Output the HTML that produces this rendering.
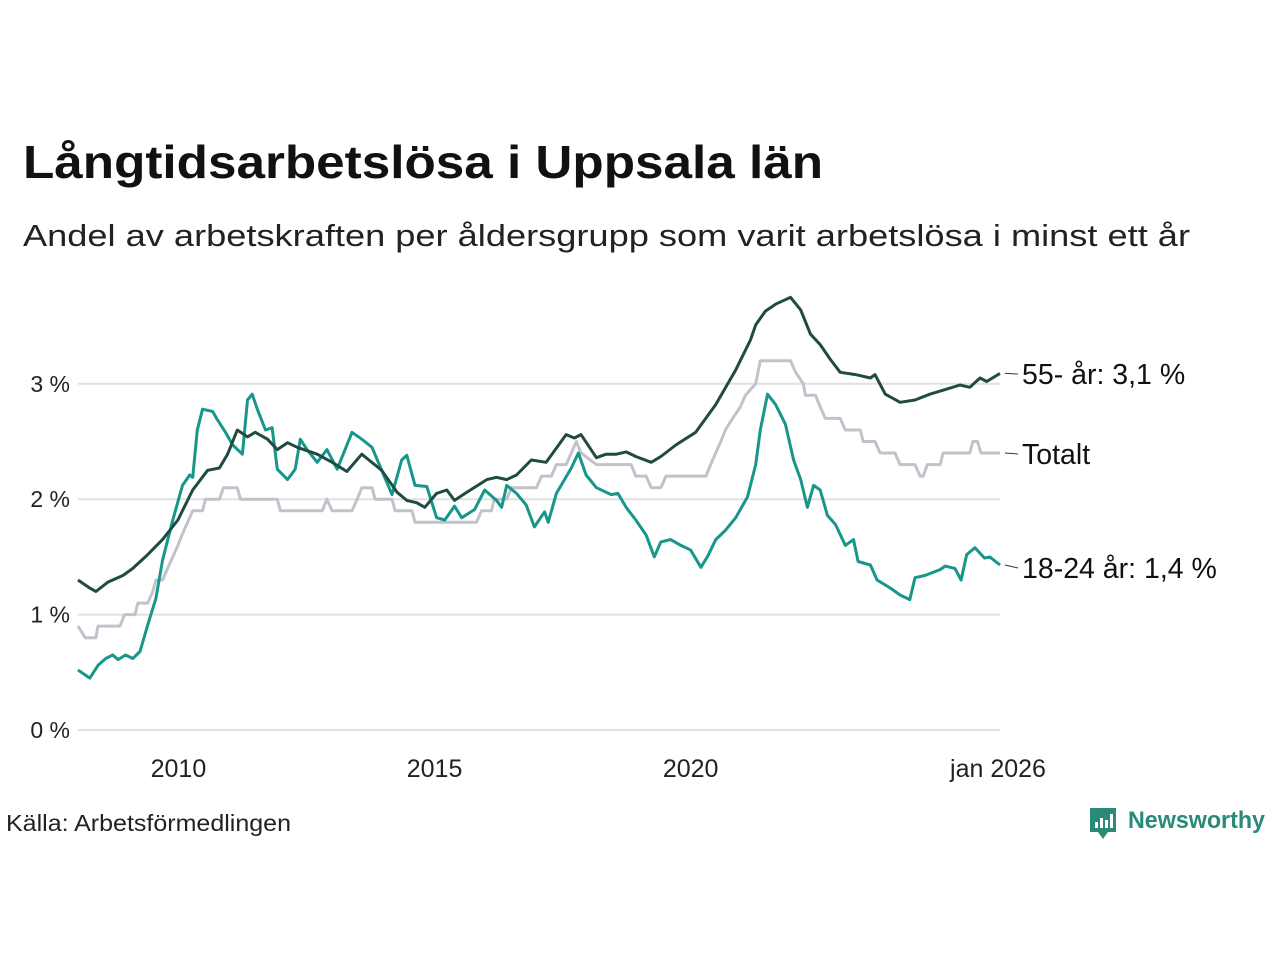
<!DOCTYPE html>
<html><head><meta charset="utf-8">
<style>
html,body{margin:0;padding:0;background:#fff;}
svg{display:block;font-family:"Liberation Sans",sans-serif;}
</style></head>
<body>
<svg id="chart" width="1280" height="960" viewBox="0 0 1280 960">
<text x="23" y="178" font-size="46" font-weight="bold" fill="#111" textLength="800" lengthAdjust="spacingAndGlyphs">Långtidsarbetslösa i Uppsala län</text>
<text x="23" y="246" font-size="31" fill="#222" textLength="1167" lengthAdjust="spacingAndGlyphs">Andel av arbetskraften per åldersgrupp som varit arbetslösa i minst ett år</text>
<g id="grid"></g>
<g id="lines"></g>
<g id="labels"></g>
<text x="6" y="831" font-size="23" fill="#222" textLength="285" lengthAdjust="spacingAndGlyphs">Källa: Arbetsförmedlingen</text>
<g>
<path d="M1090 808 h26 v24 h-8 l-5 7 l-5 -7 h-8 z" fill="#2a8a7a"/>
<rect x="1095" y="822" width="3" height="6" fill="#fff"/>
<rect x="1100" y="818" width="3" height="10" fill="#fff"/>
<rect x="1105" y="820" width="3" height="8" fill="#fff"/>
<rect x="1110" y="814" width="3" height="14" fill="#fff"/>
<text x="1128" y="828" font-size="24" font-weight="bold" fill="#2a8a7a" textLength="137" lengthAdjust="spacingAndGlyphs">Newsworthy</text>
</g>
</svg>
<script>
const yTicks=[0,1,2,3];
const yTickLabels=["0 %","1 %","2 %","3 %"];
const xTicks=[2010,2015,2020,2026];
const xTickLabels=["2010","2015","2020","jan 2026"];
const oldDates=[2008.0,2008.23,2008.35,2008.58,2008.88,2009.07,2009.36,2009.65,2009.95,2010.24,2010.53,2010.76,2010.92,2011.11,2011.31,2011.46,2011.70,2011.89,2012.09,2012.28,2012.67,2012.96,2013.25,2013.54,2013.68,2013.93,2014.23,2014.42,2014.61,2014.77,2015.0,2015.2,2015.35,2015.59,2015.98,2016.17,2016.37,2016.56,2016.85,2017.14,2017.53,2017.69,2017.82,2018.12,2018.31,2018.51,2018.70,2018.89,2019.19,2019.38,2019.67,2020.06,2020.45,2020.84,2021.13,2021.23,2021.42,2021.62,2021.91,2022.11,2022.30,2022.49,2022.69,2022.88,2023.18,2023.47,2023.56,2023.76,2024.05,2024.34,2024.63,2024.93,2025.22,2025.41,2025.61,2025.74,2026.0];
const oldValues=[1.30,1.23,1.20,1.28,1.34,1.40,1.52,1.65,1.82,2.08,2.25,2.27,2.39,2.60,2.54,2.58,2.52,2.43,2.49,2.45,2.39,2.32,2.24,2.39,2.34,2.25,2.06,1.99,1.97,1.93,2.05,2.08,1.99,2.06,2.17,2.19,2.17,2.21,2.34,2.32,2.56,2.53,2.56,2.36,2.39,2.39,2.41,2.37,2.32,2.37,2.47,2.58,2.82,3.12,3.38,3.51,3.63,3.69,3.75,3.64,3.43,3.34,3.21,3.10,3.08,3.05,3.08,2.91,2.84,2.86,2.91,2.95,2.99,2.97,3.05,3.02,3.09];
const totDates=[2008.0,2008.14,2008.35,2008.39,2008.82,2008.91,2009.11,2009.17,2009.36,2009.46,2009.52,2009.65,2009.75,2009.85,2009.95,2010.04,2010.14,2010.24,2010.43,2010.49,2010.76,2010.84,2011.11,2011.17,2011.89,2011.95,2012.77,2012.86,2012.96,2013.35,2013.45,2013.54,2013.74,2013.80,2014.13,2014.19,2014.52,2014.58,2015.78,2015.88,2016.07,2016.13,2016.37,2016.46,2016.95,2017.05,2017.24,2017.34,2017.53,2017.63,2017.73,2017.82,2018.12,2018.80,2018.89,2019.09,2019.19,2019.38,2019.48,2020.26,2020.35,2020.45,2020.55,2020.64,2020.78,2020.93,2021.03,2021.23,2021.32,2021.91,2022.01,2022.16,2022.20,2022.40,2022.49,2022.59,2022.88,2022.98,2023.27,2023.33,2023.56,2023.66,2023.95,2024.05,2024.34,2024.44,2024.50,2024.58,2024.83,2024.89,2025.41,2025.47,2025.56,2025.63,2026.0];
const totValues=[0.9,0.8,0.8,0.9,0.9,1.0,1.0,1.1,1.1,1.2,1.3,1.3,1.4,1.5,1.6,1.7,1.8,1.9,1.9,2.0,2.0,2.1,2.1,2.0,2.0,1.9,1.9,2.0,1.9,1.9,2.0,2.1,2.1,2.0,2.0,1.9,1.9,1.8,1.8,1.9,1.9,2.0,2.0,2.1,2.1,2.2,2.2,2.3,2.3,2.4,2.5,2.4,2.3,2.3,2.2,2.2,2.1,2.1,2.2,2.2,2.3,2.4,2.5,2.6,2.7,2.8,2.9,3.0,3.2,3.2,3.1,3.0,2.9,2.9,2.8,2.7,2.7,2.6,2.6,2.5,2.5,2.4,2.4,2.3,2.3,2.2,2.2,2.3,2.3,2.4,2.4,2.5,2.5,2.4,2.4];
const youngDates=[2008.0,2008.23,2008.39,2008.54,2008.68,2008.78,2008.93,2009.07,2009.21,2009.36,2009.52,2009.65,2009.85,2010.04,2010.18,2010.24,2010.33,2010.43,2010.63,2010.72,2010.88,2011.02,2011.21,2011.31,2011.40,2011.50,2011.66,2011.79,2011.89,2012.09,2012.24,2012.34,2012.47,2012.67,2012.86,2013.06,2013.25,2013.35,2013.54,2013.74,2013.93,2014.13,2014.32,2014.42,2014.58,2014.81,2015.0,2015.16,2015.35,2015.49,2015.74,2015.94,2016.17,2016.27,2016.37,2016.56,2016.75,2016.91,2017.11,2017.18,2017.34,2017.63,2017.77,2017.92,2018.12,2018.41,2018.54,2018.70,2018.89,2019.09,2019.25,2019.38,2019.57,2019.77,2019.96,2020.16,2020.30,2020.45,2020.64,2020.84,2021.07,2021.23,2021.32,2021.46,2021.62,2021.81,2021.97,2022.11,2022.24,2022.36,2022.49,2022.63,2022.79,2022.98,2023.14,2023.23,2023.47,2023.60,2023.86,2024.05,2024.24,2024.34,2024.54,2024.83,2024.93,2025.12,2025.24,2025.35,2025.51,2025.70,2025.80,2026.0];
const youngValues=[0.52,0.45,0.56,0.62,0.65,0.61,0.65,0.62,0.68,0.91,1.14,1.47,1.82,2.12,2.21,2.19,2.60,2.78,2.76,2.69,2.58,2.47,2.39,2.86,2.91,2.78,2.60,2.62,2.26,2.17,2.26,2.52,2.43,2.32,2.43,2.26,2.47,2.58,2.52,2.45,2.25,2.04,2.34,2.38,2.12,2.11,1.84,1.82,1.94,1.84,1.91,2.08,1.99,1.93,2.12,2.05,1.95,1.76,1.89,1.80,2.05,2.27,2.40,2.21,2.10,2.04,2.05,1.93,1.82,1.69,1.50,1.63,1.65,1.60,1.56,1.41,1.51,1.65,1.73,1.84,2.02,2.30,2.60,2.91,2.82,2.65,2.34,2.17,1.93,2.12,2.08,1.86,1.78,1.60,1.65,1.46,1.43,1.30,1.23,1.17,1.13,1.32,1.34,1.39,1.42,1.40,1.30,1.52,1.58,1.49,1.50,1.43];
const seriesLabels=["55- år: 3,1 %","Totalt","18-24 år: 1,4 %"];

const NS="http://www.w3.org/2000/svg";
const X0=78,X1=1000,T0=2008,T1=2026,Y0=730,PPU=115.4;
function xs(t){return X0+(t-T0)*(X1-X0)/(T1-T0);}
function ys(v){return Y0-v*PPU;}
function mk(tag,attrs,parent){const e=document.createElementNS(NS,tag);for(const k in attrs)e.setAttribute(k,attrs[k]);parent.appendChild(e);return e;}
const grid=document.getElementById('grid'),lines=document.getElementById('lines'),labels=document.getElementById('labels');
yTicks.forEach((v,i)=>{
  const l=mk('line',{x1:78,x2:1000,y1:ys(v),y2:ys(v),stroke:'#e0e0e3','stroke-width':2},grid);
  
  
  const t=mk('text',{x:70,y:ys(v)+8,'text-anchor':'end','font-size':23,fill:'#222'},grid);
  t.textContent=yTickLabels[i];
  
  
});
xTicks.forEach((v,i)=>{
  const t=mk('text',{x:xs(v)-2,y:777,'text-anchor':'middle','font-size':25,fill:'#222'},grid);
  t.textContent=xTickLabels[i];
  
  
});
function draw(d,v,color,name){
  const p=d.map((t,i)=>xs(t).toFixed(1)+','+ys(v[i]).toFixed(1)).join(' ');
  const pl=mk('polyline',{points:p,fill:'none',stroke:color,'stroke-width':3,'stroke-linejoin':'round'},lines);
  
  
}
draw(totDates,totValues,'#c3c2cc','line-totalt');
draw(youngDates,youngValues,'#17968a','line-18-24');
draw(oldDates,oldValues,'#1f4b40','line-55-plus');
const ends=[oldValues[oldValues.length-1],totValues[totValues.length-1],youngValues[youngValues.length-1]];
const labelY=[374,454,568];
ends.forEach((v,i)=>{
  const ln=mk('line',{x1:1005,x2:1018,y1:ys(v),y2:labelY[i],stroke:'#333','stroke-width':1},labels);
  
  
  const t=mk('text',{x:1022,y:labelY[i]+10,'font-size':28.5,fill:'#111'},labels);
  t.textContent=seriesLabels[i];
  
  
});
</script>
</body></html>
